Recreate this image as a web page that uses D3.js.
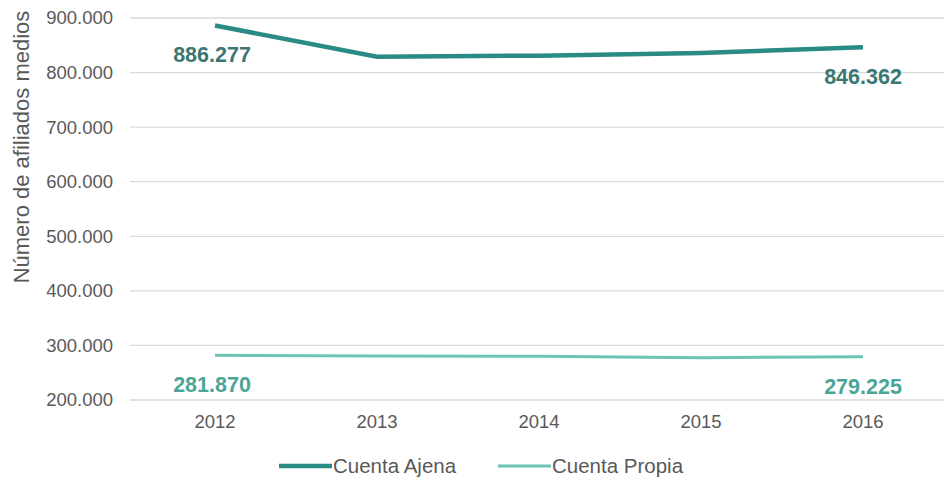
<!DOCTYPE html>
<html>
<head>
<meta charset="utf-8">
<script src="https://cdn.jsdelivr.net/npm/d3@7"></script>
<style>
  body { margin: 0; background: #fff; }
  #chart { width: 944px; height: 481px; }
  text { font-family: "Liberation Sans", Arial, sans-serif; }
</style>
</head>
<body>
<div id="chart"></div>
<script>
// datos
const years = ["2012", "2013", "2014", "2015", "2016"];
const cuentaAjena = [886277, 829000, 831000, 836000, 846362];
const cuentaPropia = [281870, 280500, 280000, 277500, 279225];
const yTicks = [200000, 300000, 400000, 500000, 600000, 700000, 800000, 900000];

const series = [
  { name: "Cuenta Ajena", values: cuentaAjena, color: "#2a8a84", label: "#3a7772", width: 4.5 },
  { name: "Cuenta Propia", values: cuentaPropia, color: "#6cc2b3", label: "#4aa597", width: 3 }
];

const width = 944, height = 481;
const margin = { top: 18, right: 0, bottom: 81, left: 134 };

const svg = d3.select('#chart').append('svg')
  .attr('width', width)
  .attr('height', height);

const x = d3.scalePoint()
  .domain(years)
  .range([margin.left, width - margin.right])
  .padding(0.5);

const y = d3.scaleLinear()
  .domain([200000, 900000])
  .range([height - margin.bottom, margin.top]);

const fmt = v => d3.format(",")(v).replace(/,/g, ".");

// rejilla
svg.append('g')
  .selectAll('line')
  .data(yTicks)
  .join('line')
  .attr('x1', margin.left - 4)
  .attr('x2', width - margin.right)
  .attr('y1', d => y(d))
  .attr('y2', d => y(d))
  .attr('stroke', '#d9d9d9')
  .attr('stroke-width', 1.3);

// eje y
svg.append('g')
  .selectAll('text')
  .data(yTicks)
  .join('text')
  .attr('x', 113)
  .attr('y', d => y(d))
  .attr('dy', '0.35em')
  .attr('text-anchor', 'end')
  .attr('font-size', 18.5)
  .attr('fill', '#595959')
  .text(fmt);

// eje x
svg.append('g')
  .selectAll('text')
  .data(years)
  .join('text')
  .attr('x', d => x(d))
  .attr('y', y(200000) + 28)
  .attr('text-anchor', 'middle')
  .attr('font-size', 18.5)
  .attr('fill', '#595959')
  .text(d => d);

svg.append('text')
  .attr('transform', 'translate(29,147) rotate(-90)')
  .attr('text-anchor', 'middle')
  .attr('font-size', 22)
  .attr('fill', '#595959')
  .text('Número de afiliados medios');

// líneas
const line = d3.line()
  .x((d, i) => x(years[i]))
  .y(d => y(d));

series.forEach(s => {
  svg.append('path')
    .datum(s.values)
    .attr('d', line)
    .attr('fill', 'none')
    .attr('stroke', s.color)
    .attr('stroke-width', s.width);

  // etiquetas de primer y último valor
  [0, s.values.length - 1].forEach(i => {
    svg.append('text')
      .attr('x', x(years[i]) - (i === 0 ? 3 : 0))
      .attr('y', y(s.values[i]) + 37)
      .attr('text-anchor', 'middle')
      .attr('font-size', 21.5)
      .attr('font-weight', 'bold')
      .attr('fill', s.label)
      .text(fmt(s.values[i]));
  });
});

// leyenda
const legend = svg.append('g');
const legendX = [279, 498];
series.forEach((s, i) => {
  const g = legend.append('g').attr('transform', `translate(${legendX[i]},466)`);
  g.append('line')
    .attr('x1', 0).attr('x2', 53)
    .attr('stroke', s.color)
    .attr('stroke-width', s.width);
  g.append('text')
    .attr('x', 54)
    .attr('dy', '0.35em')
    .attr('font-size', 20.5)
    .attr('fill', '#595959')
    .text(s.name);
});
</script>
</body>
</html>
